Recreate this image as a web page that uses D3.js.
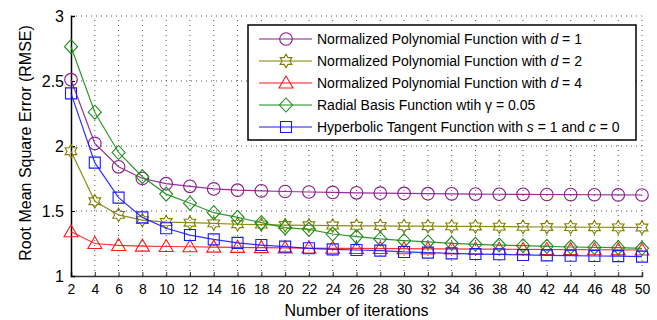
<!DOCTYPE html>
<html><head><meta charset="utf-8">
<script src="https://cdn.jsdelivr.net/npm/d3@7"></script>
<style>body{margin:0;background:#fff;} svg{display:block;font-family:"Liberation Sans",Arial,sans-serif;}</style>
</head><body><svg id="c" width="657" height="320"></svg>
<script>
const iterations = [2,4,6,8,10,12,14,16,18,20,22,24,26,28,30,32,34,36,38,40,42,44,46,48,50];
const polyD1 = [2.51,2.02,1.84,1.75,1.71,1.69,1.67,1.66,1.655,1.65,1.646,1.643,1.64,1.637,1.635,1.633,1.632,1.63,1.629,1.628,1.627,1.626,1.625,1.624,1.623];
const polyD2 = [1.96,1.575,1.47,1.43,1.415,1.41,1.405,1.398,1.395,1.392,1.39,1.388,1.386,1.385,1.384,1.383,1.382,1.381,1.38,1.378,1.377,1.376,1.375,1.374,1.373];
const polyD4 = [1.34,1.25,1.235,1.23,1.227,1.225,1.222,1.22,1.218,1.216,1.215,1.213,1.212,1.211,1.21,1.209,1.208,1.207,1.206,1.205,1.204,1.203,1.202,1.201,1.2];
const rbf = [2.764,2.26,1.95,1.764,1.63,1.56,1.487,1.451,1.41,1.372,1.359,1.323,1.303,1.285,1.272,1.262,1.251,1.244,1.238,1.233,1.228,1.223,1.22,1.218,1.213];
const tanh = [2.405,1.872,1.603,1.451,1.367,1.315,1.282,1.255,1.238,1.226,1.213,1.205,1.2,1.195,1.185,1.18,1.174,1.169,1.167,1.162,1.159,1.156,1.154,1.153,1.149];
const yTicks = [1,1.5,2,2.5,3];
const yTickLabels = ["1","1.5","2","2.5","3"];

const series = [
  {name:[["Normalized Polynomial Function with ",false],["d",true],[" = 1",false]], values:polyD1, color:"#8b1a8b", marker:"circle"},
  {name:[["Normalized Polynomial Function with ",false],["d",true],[" = 2",false]], values:polyD2, color:"#808000", marker:"hexagram"},
  {name:[["Normalized Polynomial Function with ",false],["d",true],[" = 4",false]], values:polyD4, color:"#ff1a1a", marker:"triangle"},
  {name:[["Radial Basis Function wtih γ = 0.05",false]], values:rbf, color:"#1a8c1a", marker:"diamond"},
  {name:[["Hyperbolic Tangent Function with ",false],["s",true],[" = 1 and ",false],["c",true],[" = 0",false]], values:tanh, color:"#1a1aff", marker:"square"}
];

const svg = d3.select("#c");
const x = d3.scaleLinear().domain([2,50]).range([71,642]);
const y = d3.scaleLinear().domain([1,3]).range([276,16]);

function markerPath(type){
  const p = d3.path();
  if(type==="circle"){ p.arc(0,0,6.3,0,2*Math.PI); }
  else if(type==="square"){ p.rect(-5.5,-5.5,11,11); }
  else if(type==="diamond"){ p.moveTo(0,-7); p.lineTo(6.5,0); p.lineTo(0,7); p.lineTo(-6.5,0); p.closePath(); }
  else if(type==="triangle"){ p.moveTo(0,-7); p.lineTo(7,5); p.lineTo(-7,5); p.closePath(); }
  else if(type==="hexagram"){
    const R=6.8, r=R/Math.sqrt(3);
    for(let i=0;i<12;i++){ const a=(-90+30*i)*Math.PI/180; const rr = i%2===0?R:r; const px=rr*Math.cos(a), py=rr*Math.sin(a); if(i===0)p.moveTo(px,py); else p.lineTo(px,py);} p.closePath();
  }
  return p.toString();
}

// grid
const g = svg.append("g");
g.selectAll(".vg").data(iterations.slice(1)).enter().append("line")
  .attr("x1",d=>x(d)).attr("x2",d=>x(d)).attr("y1",y(1)).attr("y2",y(3))
  .attr("stroke","#555").attr("stroke-width",1).attr("stroke-dasharray","1,4");
g.selectAll(".hg").data(yTicks.slice(1)).enter().append("line")
  .attr("x1",x(2)).attr("x2",x(50)).attr("y1",d=>y(d)).attr("y2",d=>y(d))
  .attr("stroke","#555").attr("stroke-width",1).attr("stroke-dasharray","1,4");

// axes
const xAxis = d3.axisBottom(x).tickValues(iterations).tickSize(-4).tickPadding(10).tickFormat(d3.format("d"));
const xg = svg.append("g").attr("transform",`translate(0,${y(1)})`).call(xAxis);
xg.select(".domain").attr("stroke","#333").attr("stroke-width",1.5);
xg.selectAll(".tick line").attr("stroke","#333");
xg.selectAll("text").attr("font-size",14).attr("fill","#000").attr("font-family","Liberation Sans, Arial, sans-serif").attr("dy","0.55em");

const yAxis = d3.axisLeft(y).tickValues(yTicks).tickSize(-4).tickPadding(7).tickFormat((d,i)=>yTickLabels[i]);
const yg = svg.append("g").attr("transform",`translate(${x(2)},0)`).call(yAxis);
yg.select(".domain").attr("stroke","#000").attr("stroke-width",1.5);
yg.selectAll("text").attr("font-size",16).attr("fill","#000").attr("font-family","Liberation Sans, Arial, sans-serif");

// lines and markers
const line = d3.line().x((d,i)=>x(iterations[i])).y(d=>y(d));
series.forEach(s=>{
  svg.append("path").datum(s.values).attr("d",line).attr("fill","none").attr("stroke",s.color).attr("stroke-width",1.2).attr("stroke-opacity",0.9);
  svg.append("g").selectAll("path").data(s.values).enter().append("path")
    .attr("d",markerPath(s.marker))
    .attr("transform",(d,i)=>`translate(${x(iterations[i])},${y(d)})`)
    .attr("fill","none").attr("stroke",s.color).attr("stroke-width",1.1);
});

// axis titles
svg.append("text").attr("x",(x(2)+x(50))/2).attr("y",316).attr("text-anchor","middle").attr("font-size",16).text("Number of iterations");
svg.append("text").attr("transform",`translate(31,${143}) rotate(-90)`).attr("text-anchor","middle").attr("font-size",16).text("Root Mean Square Error (RMSE)");

// legend
const lg = svg.append("g");
lg.append("rect").attr("x",248).attr("y",25).attr("width",388).attr("height",115).attr("fill","#fff").attr("stroke","#000").attr("stroke-width",1.5);
series.forEach((s,i)=>{
  const ly = 39 + i*22;
  lg.append("line").attr("x1",259).attr("x2",312).attr("y1",ly).attr("y2",ly).attr("stroke",s.color).attr("stroke-width",1.2);
  lg.append("path").attr("d",markerPath(s.marker)).attr("transform",`translate(286,${ly})`).attr("fill","none").attr("stroke",s.color).attr("stroke-width",1.1);
  const t = lg.append("text").attr("x",317).attr("y",ly+5).attr("font-size",14);
  s.name.forEach(([txt,it])=>{ t.append("tspan").attr("font-style",it?"italic":"normal").text(txt); });
});
</script></body></html>
